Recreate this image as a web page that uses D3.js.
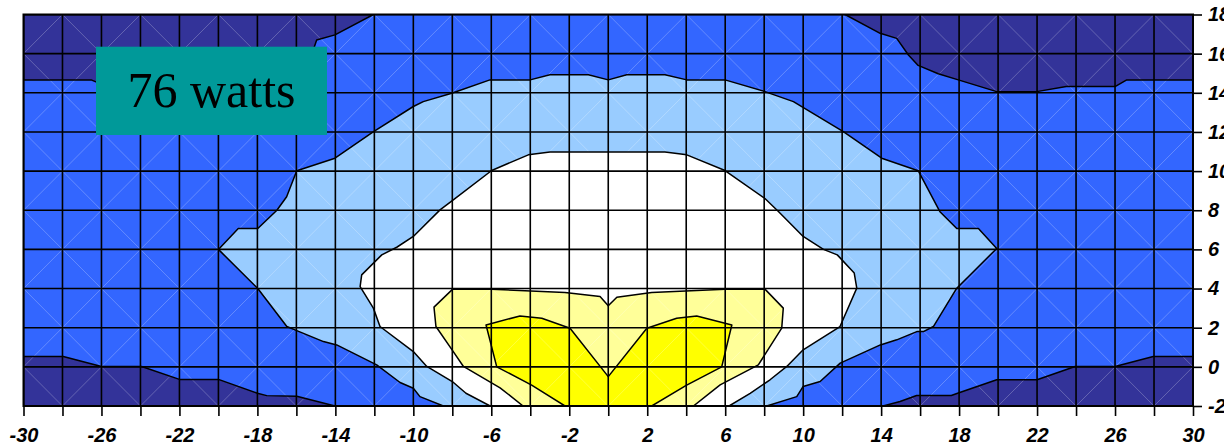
<!DOCTYPE html>
<html>
<head>
<meta charset="utf-8">
<script src="https://cdn.jsdelivr.net/npm/d3@7/dist/d3.min.js"></script>
<style>
  html, body { margin: 0; padding: 0; background: #ffffff; }
  svg { display: block; }
</style>
</head>
<body>
<svg id="chart" width="1224" height="444"></svg>
<script>
// ---- Data (x = position, y = distance; contour bands) ----
const xTickValues = [-30,-28,-26,-24,-22,-20,-18,-16,-14,-12,-10,-8,-6,-4,-2,0,2,4,6,8,10,12,14,16,18,20,22,24,26,28,30];
const xTickLabels = [-30,-26,-22,-18,-14,-10,-6,-2,2,6,10,14,18,22,26,30];
const yTickValues = [-2,0,2,4,6,8,10,12,14,16,18];
const yTickLabels = [-2,0,2,4,6,8,10,12,14,16,18];
const titleText = "76 watts";

// band order (lowest to highest)
const bandNames  = ["navy", "blue", "lightBlue", "white", "lightYellow", "yellow"];

const navyTopLeft = [[-30,18],[-30,14.65],[-26.5,14.65],[-26.1,14.48],[-22,14.5],[-18,15.2],[-15.2,16.0],
  [-14.96,16.7],[-14.02,16.96],[-12.05,18]];
const navyTopRight = [[12.15,18],[13.95,17.04],[14.8,16.78],[15.4,15.93],[15.9,15.4],[16.93,14.97],[17.96,14.66],
  [19.93,14.06],[21.98,14.06],[23.5,14.32],[26,14.32],[26.6,14.66],[30,14.66],[30,18]];
const navyBottomLeft = [[-30,-2],[-30,0.53],[-27.96,0.53],[-26,0.02],[-23.94,0.02],[-22,-0.64],[-20,-0.64],
  [-18,-1.35],[-17.52,-1.47],[-15.98,-1.5],[-14.02,-2]];
const navyBottomRight = [[30,-2],[30,0.53],[27.96,0.53],[26,0.02],[23.95,0.02],[22,-0.66],[19.93,-0.66],
  [17.96,-1.34],[17.6,-1.46],[15.82,-1.46],[14.97,-1.77],[14.1,-2]];

const lightBlueBand = [[-8.46,-2],[-9.66,-1.52],[-10.0,-1.09],[-10.68,-0.8],[-11.88,0.1],[-13.93,1.12],[-14.61,1.29],
  [-15.98,1.85],[-16.49,2.06],[-17.98,4.0],[-20,6],[-18.98,7.07],[-17.98,7.07],[-17.0,8.0],[-16.5,8.69],[-15.98,10.02],
  [-14.02,10.66],[-12.06,12.0],[-10.0,13.3],[-9.49,13.55],[-8.03,13.98],[-6.07,14.66],[-4.01,14.66],[-2.99,14.92],
  [-1.02,14.92],[0,14.66],[0.95,14.92],[2.91,14.92],[4.03,14.66],[5.99,14.66],[8.04,14.06],[9.5,13.55],[12.06,12.02],
  [14.03,10.66],[15.9,10.02],[17.02,7.92],[17.88,7.07],[18.99,7.07],[19.93,6.05],[17.88,4.02],[16.68,2.06],
  [16.17,1.8],[15.83,1.8],[14.8,1.38],[13.96,1.12],[11.9,0.19],[10.87,-0.75],[10.0,-1.0],[9.67,-1.52],[8.13,-2]];

const whiteBand = [[-6.06,-2],[-7.3,-1.35],[-8.0,-0.75],[-9.31,0.02],[-10.0,0.78],[-11.71,2.06],[-12.05,3.0],
  [-12.73,4.1],[-12.65,4.7],[-11.62,5.72],[-10.85,6.11],[-10.0,6.66],[-8.63,8.02],[-7.95,8.53],[-5.98,10.03],
  [-4.1,10.83],[-2.99,10.97],[2.91,10.97],[4.03,10.83],[5.99,10.03],[8.04,8.6],[8.73,7.94],[10.0,6.66],[11.04,6.0],
  [11.75,5.72],[12.62,4.79],[12.75,4.02],[11.89,2.06],[10.0,0.87],[9.16,0.02],[8.3,-0.66],[7.28,-1.35],[6.2,-2]];

const lightYellowBand = [[-4.37,-2],[-5.55,-1.07],[-7.43,0.02],[-7.95,0.78],[-8.84,2.06],[-8.94,3.05],[-7.98,3.97],
  [-5.98,3.97],[-2.22,3.80],[-0.42,3.59],[0,3.12],[0.44,3.56],[2.23,3.80],[5.99,3.97],[8.04,3.97],[8.98,3.0],
  [8.9,1.98],[7.7,0.1],[5.74,-0.92],[4.37,-2]];

const yellowBand = [[-2.22,-2],[-3.93,-0.93],[-5.72,0.0],[-6.27,2.14],[-4.53,2.6],[-3.41,2.48],[-1.96,1.97],
  [0,-0.5],[1.98,1.97],[3.51,2.48],[4.54,2.6],[6.34,2.14],[5.82,0.0],[4.0,-0.95],[2.23,-2]];

// ---- Styles ----
const colors = { navy: "#333399", blue: "#3366FF", lightBlue: "#99CCFF", white: "#FFFFFF",
                 lightYellow: "#FFFF99", yellow: "#FFFF00" };

const polygons = [
  { band: "navy", pts: navyTopLeft },
  { band: "navy", pts: navyTopRight },
  { band: "navy", pts: navyBottomLeft },
  { band: "navy", pts: navyBottomRight },
  { band: "lightBlue", pts: lightBlueBand },
  { band: "white", pts: whiteBand },
  { band: "lightYellow", pts: lightYellowBand },
  { band: "yellow", pts: yellowBand }
];

const svg = d3.select("#chart");
const x = d3.scaleLinear().domain([-30, 30]).range([23.5, 1193]);
const y = d3.scaleLinear().domain([-2, 18]).range([406, 14.5]);

const defs = svg.append("defs");
defs.append("clipPath").attr("id", "plotClip")
  .append("rect").attr("x", x(-30)).attr("y", y(18))
  .attr("width", x(30) - x(-30)).attr("height", y(-2) - y(18));

const plot = svg.append("g").attr("clip-path", "url(#plotClip)");

// background band (blue)
plot.append("rect").attr("x", x(-30)).attr("y", y(18))
  .attr("width", x(30) - x(-30)).attr("height", y(-2) - y(18))
  .attr("fill", colors.blue);

const line = d3.line().x(d => x(d[0])).y(d => y(d[1])).curve(d3.curveLinearClosed);

plot.selectAll("path.band").data(polygons).join("path")
  .attr("class", "band")
  .attr("d", d => line(d.pts))
  .attr("fill", d => colors[d.band])
  .attr("stroke", "none");

// faint triangulation diagonals
const cells = [];
for (let i = 0; i < xTickValues.length - 1; i++) {
  for (let j = 0; j < yTickValues.length - 1; j++) {
    cells.push({ x0: xTickValues[i], x1: xTickValues[i + 1], y0: yTickValues[j], y1: yTickValues[j + 1], k: (i + j) % 2 });
  }
}
plot.selectAll("line.diag").data(cells).join("line")
  .attr("class", "diag")
  .attr("x1", d => x(d.x0)).attr("x2", d => x(d.x1))
  .attr("y1", d => d.k ? y(d.y0) : y(d.y1))
  .attr("y2", d => d.k ? y(d.y1) : y(d.y0))
  .attr("stroke", "#ffffff").attr("stroke-opacity", 0.35).attr("stroke-width", 0.7);

// grid
plot.selectAll("line.vgrid").data(xTickValues).join("line")
  .attr("class", "vgrid")
  .attr("x1", d => x(d)).attr("x2", d => x(d))
  .attr("y1", y(18)).attr("y2", y(-2))
  .attr("stroke", "#000").attr("stroke-width", 1.6);
plot.selectAll("line.hgrid").data(yTickValues).join("line")
  .attr("class", "hgrid")
  .attr("y1", d => y(d)).attr("y2", d => y(d))
  .attr("x1", x(-30)).attr("x2", x(30))
  .attr("stroke", "#000").attr("stroke-width", 1.6);

// contour outlines
plot.selectAll("path.outline").data(polygons).join("path")
  .attr("class", "outline")
  .attr("d", d => line(d.pts))
  .attr("fill", "none")
  .attr("stroke", "#000")
  .attr("stroke-width", 1.5)
  .attr("stroke-linejoin", "round");

// frame
svg.append("rect").attr("x", x(-30)).attr("y", y(18))
  .attr("width", x(30) - x(-30)).attr("height", y(-2) - y(18))
  .attr("fill", "none").attr("stroke", "#000").attr("stroke-width", 2);

// axes
const axisFont = "'Liberation Sans', Arial, sans-serif";
const xAxis = d3.axisBottom(x).tickValues(xTickValues).tickSize(10).tickPadding(12)
  .tickFormat(d => xTickLabels.includes(d) ? String(d) : "");
const gx = svg.append("g").attr("transform", `translate(0,${y(-2)})`).call(xAxis);
gx.select(".domain").remove();
gx.selectAll(".tick line").attr("stroke", "#000").attr("stroke-width", 1.6);
gx.selectAll(".tick text").attr("fill", "#000")
  .style("font-family", axisFont).style("font-size", "20px")
  .style("font-weight", "bold").style("font-style", "italic");

const yAxis = d3.axisRight(y).tickValues(yTickValues).tickSize(9).tickPadding(6)
  .tickFormat(d => yTickLabels.includes(d) ? String(d) : "");
const gy = svg.append("g").attr("transform", `translate(${x(30)},0)`).call(yAxis);
gy.select(".domain").remove();
gy.selectAll(".tick line").attr("stroke", "#000").attr("stroke-width", 1.6);
gy.selectAll(".tick text").attr("fill", "#000")
  .style("font-family", axisFont).style("font-size", "20px")
  .style("font-weight", "bold").style("font-style", "italic");

// label box
svg.append("rect").attr("x", 96).attr("y", 46.7).attr("width", 231).attr("height", 88.3)
  .attr("fill", "#009999");
svg.append("text").attr("x", 211.5).attr("y", 107)
  .attr("text-anchor", "middle")
  .style("font-family", "'Liberation Serif', 'Times New Roman', serif")
  .style("font-size", "50px").attr("fill", "#000")
  .text(titleText);
</script>
</body>
</html>
